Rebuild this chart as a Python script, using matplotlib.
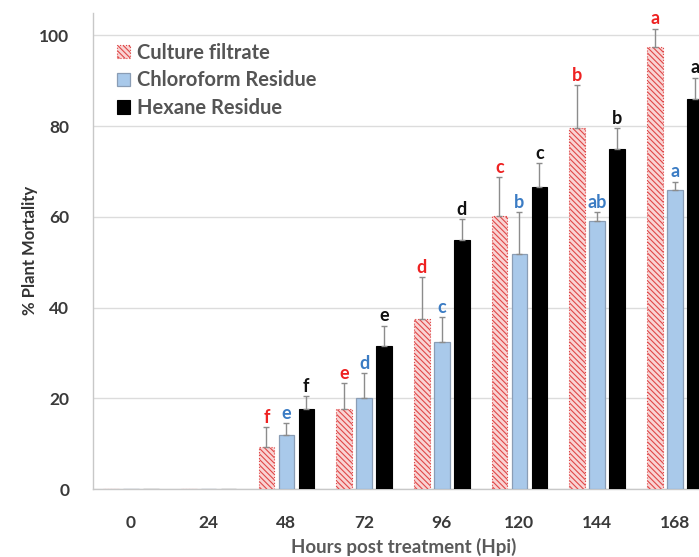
import numpy as np
import matplotlib
matplotlib.use("Agg")
import matplotlib.pyplot as plt

hours = ["0", "24", "48", "72", "96", "120", "144", "168"]
series = ["Culture filtrate", "Chloroform Residue", "Hexane Residue"]

culture = [0, 0, 9.3, 17.6, 37.6, 60.1, 79.7, 97.4]
chloroform = [0, 0, 11.9, 20.0, 32.4, 51.8, 59.2, 65.9]
hexane = [0, 0, 17.6, 31.5, 55.0, 66.5, 74.9, 85.9]

culture_err = [0, 0, 4.4, 5.7, 9.1, 8.6, 9.3, 4.1]
chloroform_err = [0, 0, 2.6, 5.5, 5.5, 9.2, 1.8, 1.9]
hexane_err = [0, 0, 2.9, 4.5, 4.5, 5.3, 4.6, 4.8]

culture_letters = ["", "", "f", "e", "d", "c", "b", "a"]
chloroform_letters = ["", "", "e", "d", "c", "b", "ab", "a"]
hexane_letters = ["", "", "f", "e", "d", "c", "b", "a"]

plt.rcParams["font.family"] = ["Lato", "DejaVu Sans"]
plt.rcParams["hatch.linewidth"] = 0.8

fig = plt.figure(figsize=(6.99, 5.57), dpi=100)
ax = fig.add_axes([0.133, 0.122, 0.888, 0.855])

x = np.arange(len(hours))
step = 0.257
width = 0.2

styles = [
    dict(facecolor="#f9d4d4", edgecolor="#e04848", hatch="\\\\\\\\\\\\", linewidth=0.8, linestyle=":"),
    dict(facecolor="#a9c9ea", edgecolor="#8a9db5", linewidth=0.9),
    dict(facecolor="#000000", edgecolor="#000000", linewidth=0.8),
]
letter_colors = ["#ee2222", "#3b7cc4", "#111111"]

groups = [
    (culture, culture_err, culture_letters),
    (chloroform, chloroform_err, chloroform_letters),
    (hexane, hexane_err, hexane_letters),
]

for i, (vals, errs, letters) in enumerate(groups):
    vals = np.array(vals, dtype=float)
    errs = np.array(errs, dtype=float)
    pos = x + (i - 1) * step
    ax.bar(pos, vals, width, label=series[i], zorder=3, **styles[i])
    shown = vals > 0
    ax.errorbar(pos[shown], vals[shown],
                yerr=[np.zeros(shown.sum()), errs[shown]],
                fmt="none", ecolor="#8c8c8c", elinewidth=1.0,
                capsize=2.5, capthick=1.0, zorder=4)
    for p, v, e, lab in zip(pos, vals, errs, letters):
        if lab:
            ax.annotate(lab, (p, v + e), xytext=(0, 1), textcoords="offset points",
                        ha="center", va="bottom", fontsize=13, fontweight="bold",
                        color=letter_colors[i], zorder=5)

ax.set_xlim(-0.49, 7.5)
ax.set_ylim(0, 105)
ax.set_yticks(np.arange(0, 101, 20))
ax.set_xticks(x)
ax.set_xticklabels(hours)

ax.yaxis.grid(True, color="#dcdcdc", linewidth=1.0, zorder=0)
ax.set_axisbelow(True)
for side in ["top", "right"]:
    ax.spines[side].set_visible(False)
for side in ["left", "bottom"]:
    ax.spines[side].set_color("#c8c8c8")
    ax.spines[side].set_linewidth(1.0)

ax.tick_params(axis="both", length=0, labelsize=12.5, labelcolor="#3a3a3a")
ax.tick_params(axis="x", pad=19)
ax.tick_params(axis="y", pad=17)
for t in ax.get_xticklabels() + ax.get_yticklabels():
    t.set_fontweight("bold")

ax.set_ylabel("% Plant Mortality", fontsize=12, fontweight="bold", color="#333333")
ax.yaxis.set_label_coords(-0.089, 0.5)
ax.set_xlabel("Hours post treatment (Hpi)", fontsize=13.5, fontweight="bold",
              color="#5a5a5a", labelpad=5)

ax.legend(loc="upper left", bbox_to_anchor=(0.01, 0.975), frameon=False,
          prop={"size": 14.5, "weight": "bold"}, labelcolor="#555555",
          handlelength=0.65, handleheight=0.65, handletextpad=0.35, labelspacing=0.38)

fig.savefig("out.png", dpi=100)
